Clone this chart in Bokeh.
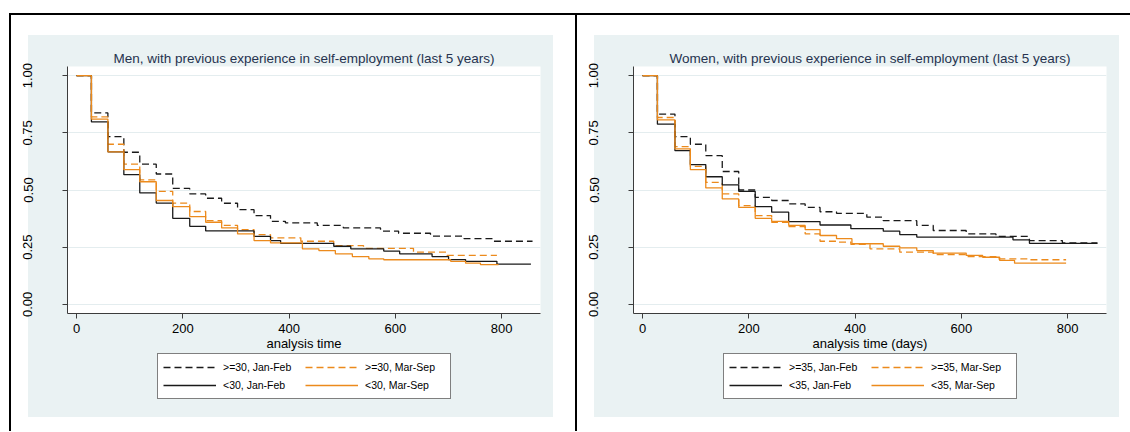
from bokeh.plotting import figure
from bokeh.models import Legend, LegendItem, FixedTicker, NumeralTickFormatter, Range1d, Row, Column
from bokeh.embed import file_html
from bokeh.resources import INLINE

# ---------------- data ----------------
men_title = "Men, with previous experience in self-employment (last 5 years)"
women_title = "Women, with previous experience in self-employment (last 5 years)"
men_xlabel = "analysis time"
women_xlabel = "analysis time (days)"
men_labels = [">=30, Jan-Feb", ">=30, Mar-Sep", "<30, Jan-Feb", "<30, Mar-Sep"]
women_labels = [">=35, Jan-Feb", ">=35, Mar-Sep", "<35, Jan-Feb", "<35, Mar-Sep"]
x_ticks = [0, 200, 400, 600, 800]
y_ticks = [0.0, 0.25, 0.5, 0.75, 1.0]

# Men
men_old_jf_t = [0, 28, 59, 89, 119, 150, 181, 213, 243, 273, 303, 334, 365, 393, 453, 502, 572, 606, 666, 729, 785, 858]
men_old_jf_s = [1.0, 0.837, 0.733, 0.665, 0.613, 0.570, 0.507, 0.483, 0.464, 0.442, 0.414, 0.388, 0.363, 0.356, 0.345, 0.334, 0.320, 0.311, 0.298, 0.287, 0.276, 0.276]
men_old_ms_t = [0, 28, 59, 89, 119, 150, 181, 213, 243, 273, 303, 334, 365, 422, 484, 540, 634, 697, 791]
men_old_ms_s = [1.0, 0.820, 0.700, 0.613, 0.544, 0.494, 0.443, 0.406, 0.366, 0.345, 0.327, 0.305, 0.291, 0.276, 0.257, 0.245, 0.228, 0.214, 0.214]
men_young_jf_t = [0, 28, 59, 89, 119, 150, 181, 213, 243, 334, 365, 384, 484, 516, 578, 608, 669, 700, 732, 791, 855]
men_young_jf_s = [1.0, 0.798, 0.667, 0.567, 0.487, 0.443, 0.376, 0.341, 0.321, 0.297, 0.279, 0.267, 0.254, 0.243, 0.233, 0.221, 0.209, 0.196, 0.188, 0.176, 0.176]
men_young_ms_t = [0, 28, 59, 89, 119, 150, 181, 213, 243, 273, 303, 334, 365, 425, 456, 487, 519, 550, 578, 704, 732, 760, 794]
men_young_ms_s = [1.0, 0.810, 0.667, 0.589, 0.536, 0.454, 0.427, 0.384, 0.359, 0.334, 0.308, 0.279, 0.269, 0.243, 0.235, 0.221, 0.209, 0.199, 0.195, 0.188, 0.180, 0.174, 0.174]

# Women
women_old_jf_t = [0, 28, 61, 90, 119, 150, 181, 212, 243, 275, 306, 334, 365, 422, 453, 516, 547, 609, 665, 728, 790, 856]
women_old_jf_s = [1.0, 0.832, 0.733, 0.700, 0.650, 0.581, 0.500, 0.468, 0.454, 0.439, 0.424, 0.405, 0.398, 0.381, 0.366, 0.345, 0.323, 0.308, 0.297, 0.279, 0.269, 0.269]
women_old_ms_t = [0, 28, 61, 90, 119, 150, 181, 212, 243, 275, 306, 334, 365, 392, 428, 484, 547, 609, 665, 728, 797]
women_old_ms_s = [1.0, 0.817, 0.690, 0.603, 0.533, 0.483, 0.432, 0.388, 0.359, 0.340, 0.308, 0.276, 0.272, 0.262, 0.243, 0.228, 0.218, 0.209, 0.199, 0.195, 0.195]
women_young_jf_t = [0, 28, 61, 90, 119, 150, 181, 212, 243, 275, 334, 392, 453, 484, 516, 697, 728, 856]
women_young_jf_s = [1.0, 0.788, 0.672, 0.611, 0.558, 0.522, 0.494, 0.427, 0.403, 0.362, 0.347, 0.331, 0.320, 0.305, 0.294, 0.282, 0.267, 0.267]
women_young_ms_t = [0, 28, 61, 90, 119, 150, 181, 212, 243, 275, 306, 334, 365, 394, 453, 484, 516, 547, 609, 640, 672, 700, 797]
women_young_ms_s = [1.0, 0.807, 0.680, 0.589, 0.509, 0.461, 0.424, 0.376, 0.363, 0.345, 0.327, 0.301, 0.287, 0.265, 0.254, 0.247, 0.235, 0.224, 0.214, 0.206, 0.192, 0.180, 0.180]

# ---------------- styling ----------------
FONT = "Liberation Sans"
BLACK = "#1a1a1a"
ORANGE = "#ec8a1c"
REGION = "#eaf2f3"
STYLES = [(BLACK, "7 4"), (ORANGE, "7 4"), (BLACK, "solid"), (ORANGE, "solid")]
MAIN_H = 338
LEG_H = 78
NAN = float("nan")


def make_panel(width, title, xlabel, series, labels):
    p = figure(width=width, height=MAIN_H,
               x_range=Range1d(-17, 873), y_range=Range1d(-0.04, 1.04),
               output_backend="svg", toolbar_location=None,
               min_border_left=56, min_border_right=width - 56 - 473,
               min_border_top=51, min_border_bottom=MAIN_H - 51 - 247)
    p.border_fill_color = None
    p.background_fill_color = "white"
    p.outline_line_color = None

    p.title.text = title
    p.title.align = "center"
    p.title.text_font = FONT
    p.title.text_font_size = "13.5px"
    p.title.text_font_style = "normal"
    p.title.text_color = "#26334f"
    p.title.standoff = 2

    for (t, s), (col, dash) in zip(series, STYLES):
        p.step(x=t, y=s, mode="after", line_color=col, line_width=1.3, line_dash=dash)

    p.xaxis.ticker = FixedTicker(ticks=x_ticks)
    p.yaxis.ticker = FixedTicker(ticks=y_ticks)
    p.yaxis.formatter = NumeralTickFormatter(format="0.00")
    p.yaxis.major_label_orientation = "vertical"
    for ax in (p.xaxis[0], p.yaxis[0]):
        ax.axis_line_color = "#3c3c3c"
        ax.major_tick_line_color = "#3c3c3c"
        ax.major_tick_out = 5
        ax.major_tick_in = 0
        ax.minor_tick_line_color = None
        ax.major_label_text_font = FONT
        ax.major_label_text_font_size = "13px"
        ax.major_label_text_color = "black"
    p.xaxis.major_label_standoff = 5
    p.yaxis.major_label_standoff = 30
    p.xaxis.axis_label = xlabel
    p.xaxis.axis_label_text_font = FONT
    p.xaxis.axis_label_text_font_size = "13px"
    p.xaxis.axis_label_text_font_style = "normal"
    p.xaxis.axis_label_text_color = "black"
    p.xaxis.axis_label_standoff = 0

    p.xgrid.grid_line_color = None
    p.ygrid.grid_line_color = "#e4edef"
    p.ygrid.grid_line_width = 1

    # legend figure (keys only, no visible data)
    q = figure(width=width, height=LEG_H, x_range=Range1d(0, 1), y_range=Range1d(0, 1),
               x_axis_type=None, y_axis_type=None, output_backend="svg",
               toolbar_location=None, min_border=0, min_border_left=0,
               min_border_right=0, min_border_top=0, min_border_bottom=0)
    q.border_fill_color = None
    q.background_fill_color = None
    q.outline_line_color = None
    q.xgrid.visible = False
    q.ygrid.visible = False
    items = []
    for (col, dash), lab in zip(STYLES, labels):
        r = q.line(x=[NAN], y=[NAN], line_color=col, line_width=1.3, line_dash=dash)
        items.append(LegendItem(label=lab, renderers=[r]))
    legend = Legend(items=items, location=(90, LEG_H - 2 - 44), orientation="horizontal", ncols=2,
                    glyph_width=53, glyph_height=16, label_height=16, label_width=80,
                    label_standoff=7, spacing=2, padding=5, margin=0,
                    border_line_color="black", border_line_width=1,
                    background_fill_color="white", background_fill_alpha=1.0,
                    label_text_font=FONT, label_text_font_size="10.5px",
                    label_text_color="black")
    q.add_layout(legend, "center")

    return p, q


men_series = [(men_old_jf_t, men_old_jf_s), (men_old_ms_t, men_old_ms_s),
              (men_young_jf_t, men_young_jf_s), (men_young_ms_t, men_young_ms_s)]
women_series = [(women_old_jf_t, women_old_jf_s), (women_old_ms_t, women_old_ms_s),
                (women_young_jf_t, women_young_jf_s), (women_young_ms_t, women_young_ms_s)]

p1, q1 = make_panel(564, men_title, men_xlabel, men_series, men_labels)
p2, q2 = make_panel(553, women_title, women_xlabel, women_series, women_labels)

bg = {
    "background-image": f"linear-gradient({REGION}, {REGION})",
    "background-size": "525px 382px",
    "background-position": "17px 20px",
    "background-repeat": "no-repeat",
}
c1 = Column(children=[p1, q1], spacing=0,
            styles=dict(bg, **{"border-left": "2px solid black", "border-top": "2px solid black",
                               "border-right": "2px solid black"}))
c2 = Column(children=[p2, q2], spacing=0, styles=dict(bg, **{"border-top": "2px solid black"}))
layout = Row(children=[c1, c2], spacing=0, styles={"margin-top": "13px", "margin-left": "9px"})

open("out.html", "w").write(file_html(layout, INLINE))
